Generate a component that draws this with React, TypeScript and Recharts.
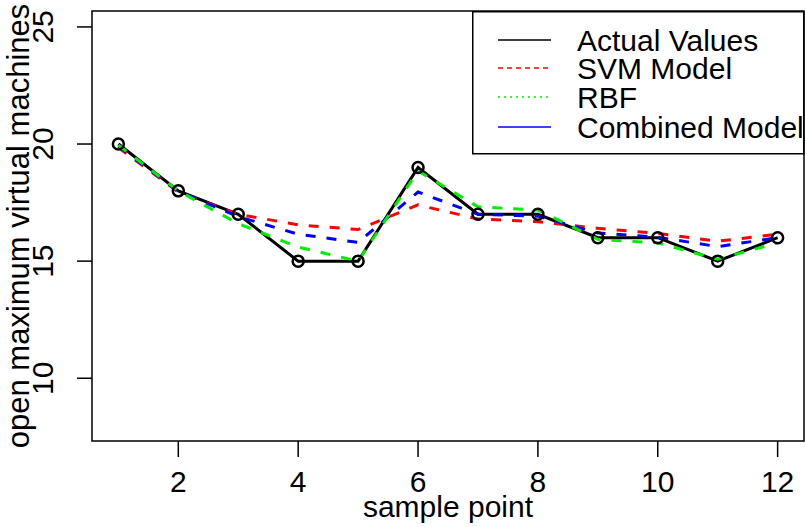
import { LineChart, Line, XAxis, YAxis, ReferenceArea, Label } from "recharts";

// values
const samplePoints = [1, 2, 3, 4, 5, 6, 7, 8, 9, 10, 11, 12];
const actualValues = [20, 18, 17, 15, 15, 19, 17, 17, 16, 16, 15, 16];
const svmModel = [19.85, 17.95, 17.0, 16.55, 16.35, 17.4, 16.8, 16.68, 16.4, 16.18, 15.85, 16.15];
const rbfModel = [19.95, 18.0, 16.6, 15.6, 15.0, 18.85, 17.32, 17.18, 15.93, 15.78, 15.08, 15.78];
const combinedModel = [19.9, 17.98, 16.9, 16.15, 15.8, 17.95, 17.0, 16.92, 16.2, 16.02, 15.62, 16.0];
const xTicks = [2, 4, 6, 8, 10, 12];
const yTicks = [10, 15, 20, 25];
const xDomain: [number, number] = [0.56, 12.44];
const yDomain: [number, number] = [7.32, 25.68];

const legendItems = [
  { label: "Actual Values", color: "#000000", dash: undefined as string | undefined },
  { label: "SVM Model", color: "#ff0000", dash: "5 4" },
  { label: "RBF", color: "#00ee00", dash: "2 4" },
  { label: "Combined Model", color: "#0000ff", dash: undefined },
];

const FONT = "'Liberation Sans', Arial, sans-serif";
const FS = 30;

const data = samplePoints.map((s, i) => ({
  sample: s,
  actual: actualValues[i],
  svm: svmModel[i],
  rbf: rbfModel[i],
  combined: combinedModel[i],
}));

// legend is drawn as an overlay so it doesn't eat into the plot offset
function LegendBox() {
  const rows = [29, 57, 86, 116];
  return (
    <svg width={333} height={144} style={{ position: "absolute", top: 11, left: 472, display: "block" }}>
      <rect x={0.75} y={0.75} width={331} height={142} fill="#fff" stroke="#000" strokeWidth={1.5} />
      {legendItems.map((it, i) => (
        <g key={it.label}>
          <line x1={26} x2={79} y1={rows[i]} y2={rows[i]} stroke={it.color} strokeWidth={1.5} strokeDasharray={it.dash} />
          <text x={105} y={rows[i] + 11} fontSize={FS} fontFamily={FONT} fill="#000">
            {it.label}
          </text>
        </g>
      ))}
    </svg>
  );
}

export default function App() {
  return (
    <div style={{ width: 805, height: 527, position: "relative", background: "#fff" }}>
      <style>{"body{margin:0}"}</style>
      <LineChart width={805} height={527} data={data} margin={{ top: 11, right: 1, left: 0, bottom: 0 }}>
        <XAxis
          dataKey="sample"
          type="number"
          domain={xDomain}
          ticks={xTicks}
          allowDataOverflow
          height={86}
          axisLine={false}
          tickSize={16}
          tickLine={{ stroke: "#000", strokeWidth: 1.5 }}
          tick={({ x, payload }: any) => (
            <text x={x} y={492} textAnchor="middle" fontSize={FS} fontFamily={FONT} fill="#000">
              {payload.value}
            </text>
          )}
        >
          <Label
            content={({ viewBox }: any) => (
              <text
                x={viewBox.x + viewBox.width / 2}
                y={viewBox.y + 76}
                textAnchor="middle"
                fontSize={FS}
                fontFamily={FONT}
                fill="#000"
              >
                sample point
              </text>
            )}
          />
        </XAxis>
        <YAxis
          type="number"
          domain={yDomain}
          ticks={yTicks}
          allowDataOverflow
          width={92}
          axisLine={false}
          tickSize={15}
          tickLine={{ stroke: "#000", strokeWidth: 1.5 }}
          tick={({ y, payload }: any) => (
            <text
              x={53}
              y={y}
              transform={`rotate(-90, 53, ${y})`}
              textAnchor="middle"
              fontSize={FS}
              fontFamily={FONT}
              fill="#000"
            >
              {payload.value}
            </text>
          )}
        >
          <Label
            content={({ viewBox }: any) => {
              const cx = viewBox.x + 29;
              const cy = viewBox.y + viewBox.height / 2;
              return (
                <text
                  x={cx}
                  y={cy}
                  transform={`rotate(-90, ${cx}, ${cy})`}
                  textAnchor="middle"
                  fontSize={31}
                  fontFamily={FONT}
                  fill="#000"
                >
                  open maximum virtual machines
                </text>
              );
            }}
          />
        </YAxis>
        <ReferenceArea
          x1={xDomain[0]}
          x2={xDomain[1]}
          y1={yDomain[0]}
          y2={yDomain[1]}
          fill="none"
          stroke="#000"
          strokeWidth={1.5}
          ifOverflow="visible"
        />
        <Line
          dataKey="actual"
          stroke="#000"
          strokeWidth={3}
          dot={{ r: 5.5, stroke: "#000", strokeWidth: 2.5, fill: "none" }}
          isAnimationActive={false}
        />
        <Line dataKey="svm" stroke="#ff0000" strokeWidth={3} strokeDasharray="10 11" dot={false} isAnimationActive={false} />
        <Line dataKey="combined" stroke="#0000ff" strokeWidth={3} strokeDasharray="10 11" dot={false} isAnimationActive={false} />
        <Line dataKey="rbf" stroke="#00ee00" strokeWidth={3} strokeDasharray="10 11" dot={false} isAnimationActive={false} />
      </LineChart>
      <LegendBox />
    </div>
  );
}
